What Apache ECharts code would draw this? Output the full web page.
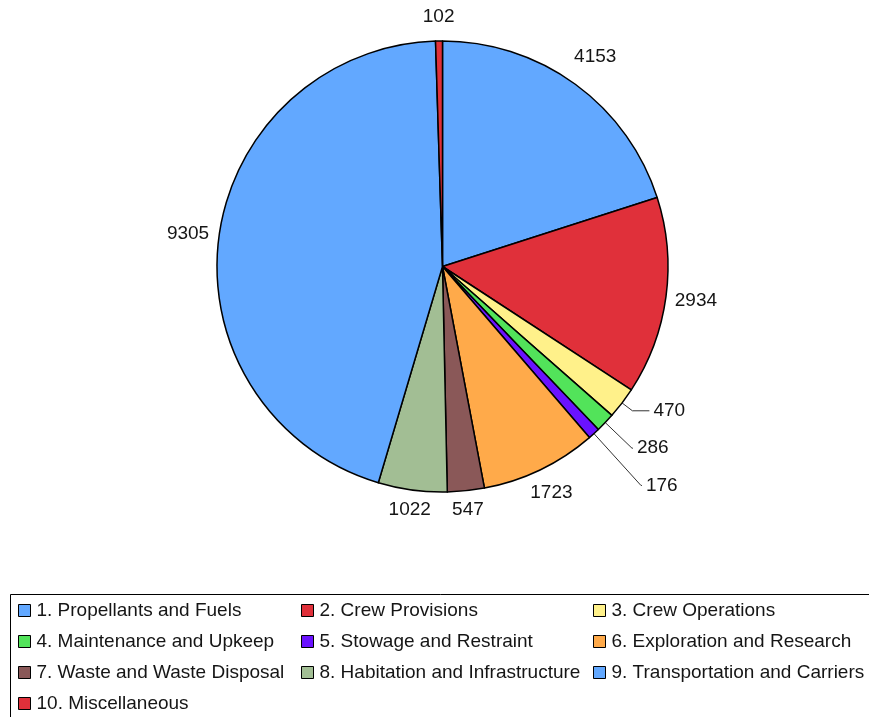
<!DOCTYPE html>
<html><head><meta charset="utf-8">
<script src="https://cdn.jsdelivr.net/npm/echarts@6/dist/echarts.min.js"></script>
<style>html,body{margin:0;padding:0;background:#fff}#c{width:869px;height:717px}</style>
</head><body><div id="c"></div>
<script>
const categories = [
  '1. Propellants and Fuels',
  '2. Crew Provisions',
  '3. Crew Operations',
  '4. Maintenance and Upkeep',
  '5. Stowage and Restraint',
  '6. Exploration and Research',
  '7. Waste and Waste Disposal',
  '8. Habitation and Infrastructure',
  '9. Transportation and Carriers',
  '10. Miscellaneous'
];
const values = [4153, 2934, 470, 286, 176, 1723, 547, 1022, 9305, 102];
const colors = ['#62a8ff', '#e0303a', '#fff18a', '#52e35a', '#6a12ff', '#ffaa4a', '#8a5858', '#a2be94', '#62a8ff', '#e0303a'];
// label line [length, length2] for the slices whose labels use leader lines
const leaderLines = [null, null, [13, 17], [37, 1], [70, 1], null, null, null, null, null];
const legendColumns = [
  [categories[0], categories[3], categories[6], categories[9]],
  [categories[1], categories[4], categories[7]],
  [categories[2], categories[5], categories[8]]
];

const CX = 442.5, CY = 266.5, R = 225.5;
const total = values.reduce((a, b) => a + b, 0);
const mids = [];
let acc = 0;
values.forEach(v => { mids.push((acc + v / 2) / total * 2 * Math.PI); acc += v; });

const FONT = 'Liberation Sans, Arial, sans-serif';
const chart = echarts.init(document.getElementById('c'), null, {renderer: 'canvas'});
const data = categories.map((name, i) => {
  const ll = leaderLines[i];
  return {
    name, value: values[i],
    itemStyle: {color: colors[i]},
    labelLine: ll ? {show: true, length: ll[0], length2: ll[1]} : {show: false, length: 0, length2: 0}
  };
});
const colX = [18, 301, 593];
chart.setOption({
  animation: false,
  backgroundColor: '#fff',
  graphic: [{type: 'rect', shape: {x: 10.5, y: 594.5, width: 900, height: 200}, style: {fill: 'none', stroke: '#000', lineWidth: 1}}],
  legend: legendColumns.map((names, i) => ({
    data: names, orient: 'vertical', left: colX[i], top: 601, padding: 0,
    itemWidth: 12, itemHeight: 12, itemGap: 12, icon: 'rect', selectedMode: false,
    itemStyle: {borderColor: '#000', borderWidth: 1},
    textStyle: {fontSize: 19, color: '#151515', fontFamily: FONT, lineHeight: 19, padding: [0, 0, 0, 1]}
  })),
  series: [{
    type: 'pie',
    center: [CX, CY], radius: R,
    startAngle: 90, clockwise: true,
    avoidLabelOverlap: false,
    itemStyle: {borderColor: '#000', borderWidth: 1.5},
    label: {show: true, position: 'outside', formatter: '{c}', fontSize: 19, color: '#151515', fontFamily: FONT, distanceToLabelLine: 4},
    labelLine: {lineStyle: {color: '#333', width: 1}, smooth: false},
    emphasis: {disabled: true},
    labelLayout: function (p) {
      if (leaderLines[p.dataIndex]) return {};
      const a = mids[p.dataIndex];
      const dx = Math.sin(a), dy = -Math.cos(a);
      const w = p.labelRect.width, h = p.labelRect.height;
      const ext = Math.abs(dx) * w / 2 + Math.abs(dy) * h / 2;
      const gap = 8 + 7 * Math.max(0, -dy);
      const r = R + gap + ext;
      return {x: CX + dx * r, y: CY + dy * r, align: 'center', verticalAlign: 'middle'};
    },
    data
  }]
});
</script></body></html>
